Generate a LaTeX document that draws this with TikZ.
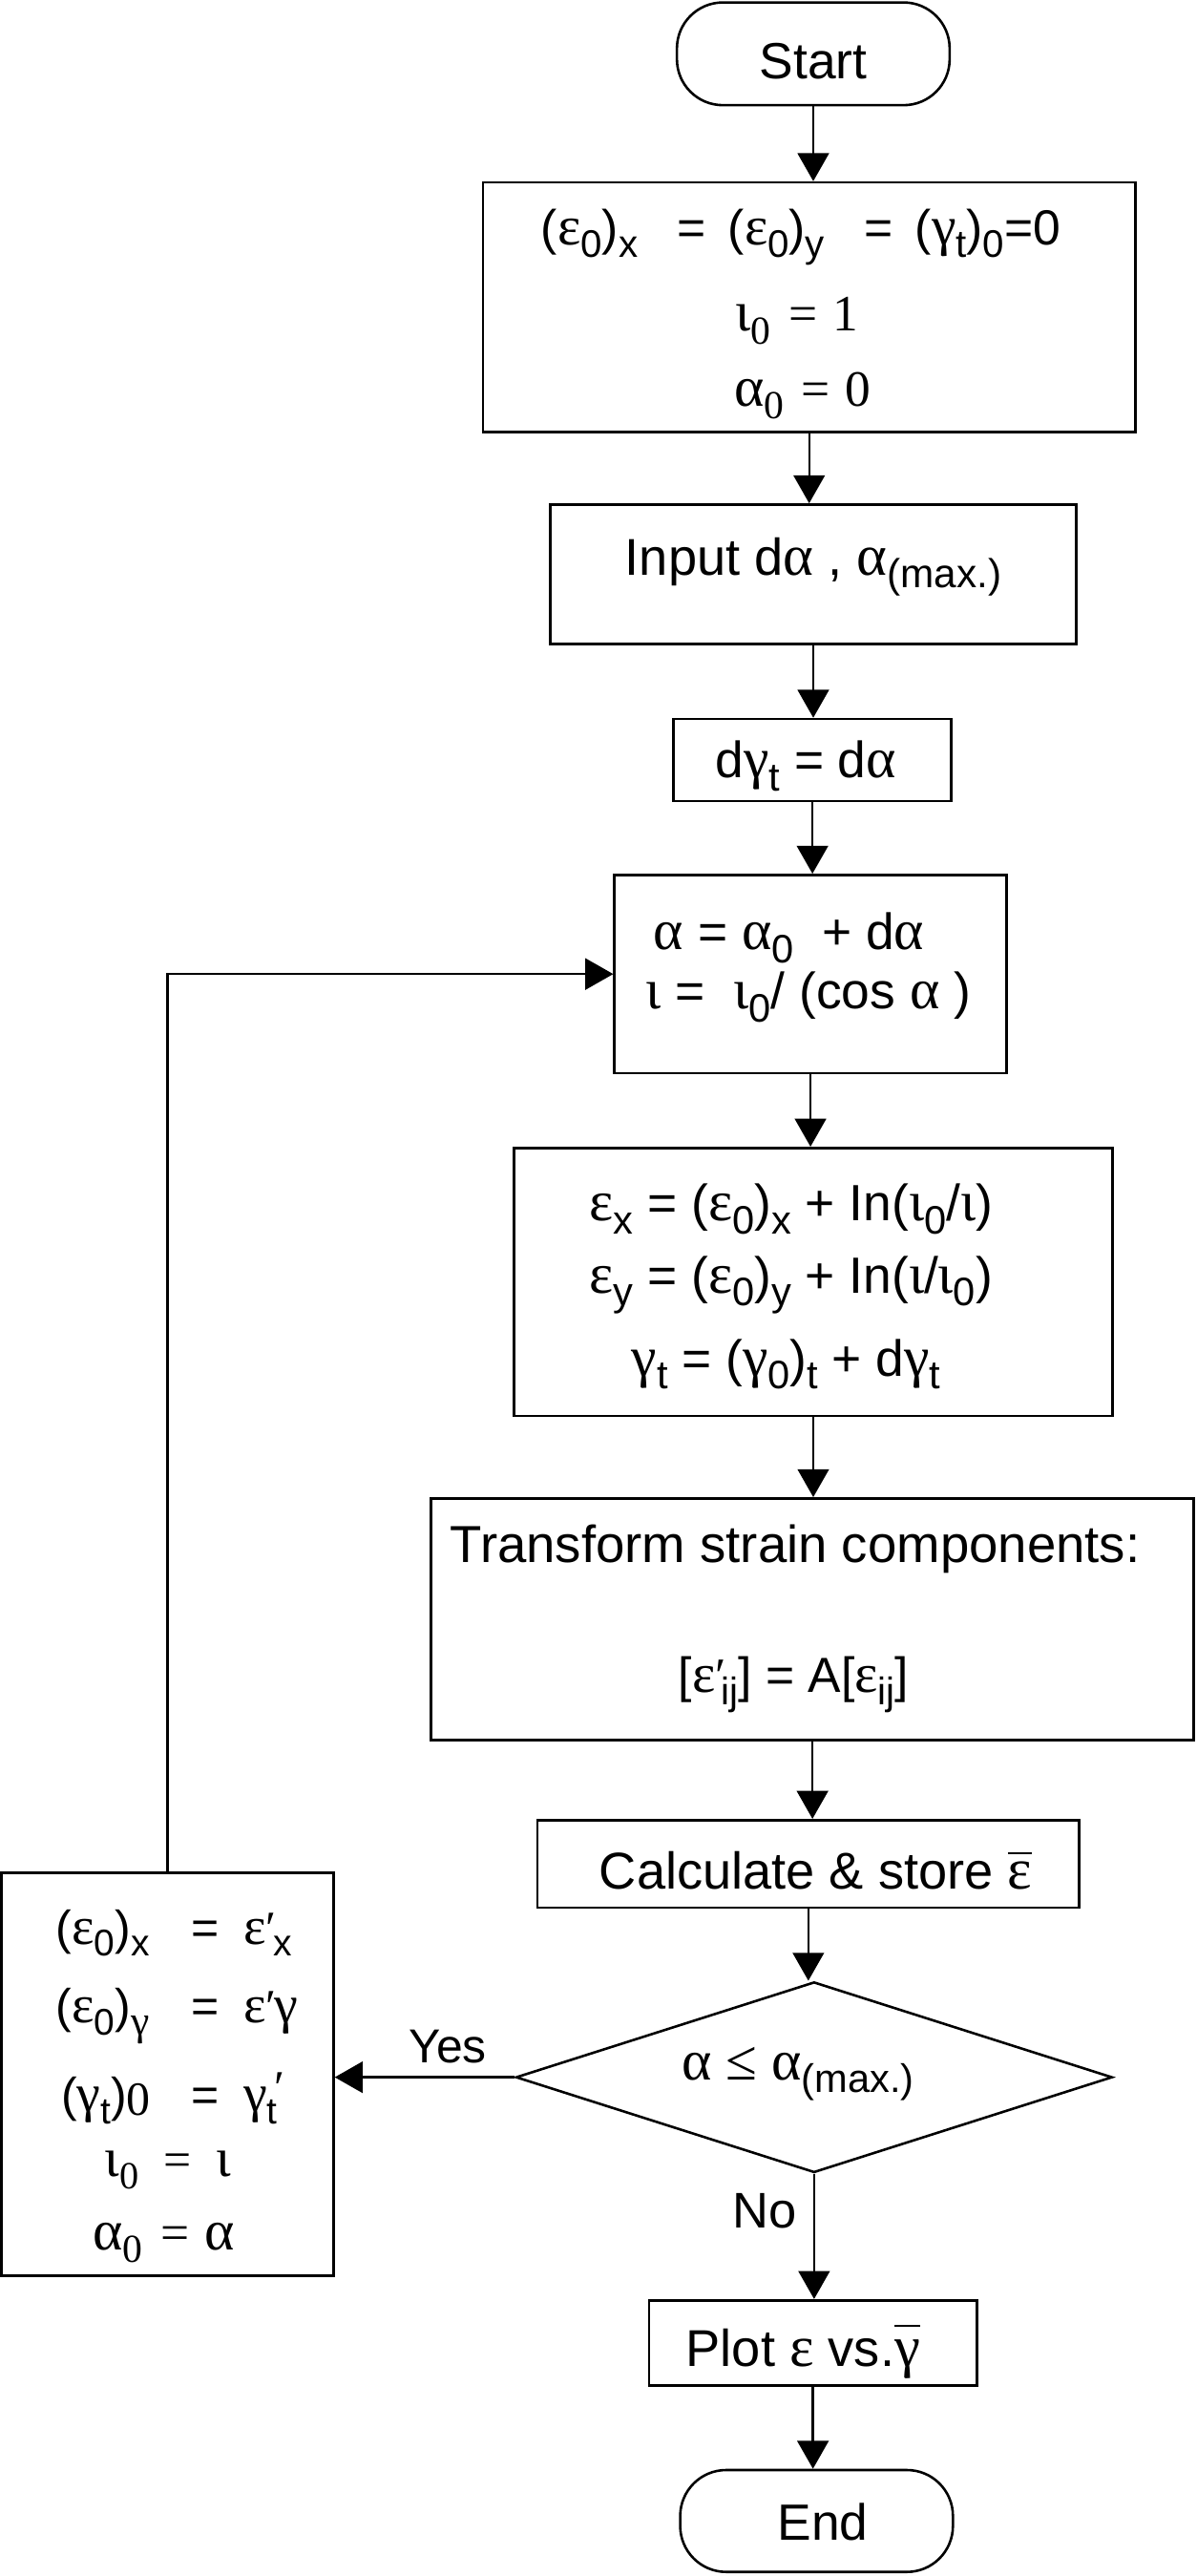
\documentclass[tikz,border=0pt]{standalone}
\usepackage{fontspec}
\setmainfont{Liberation Sans}
\newfontfamily\grk{Liberation Serif}[Scale=1.12]
\newfontfamily\srf{Liberation Serif}
\usetikzlibrary{shapes.geometric,arrows.meta}
\newcommand{\fs}[1]{\fontsize{#1}{#1}\selectfont}
\newcommand{\Ga}{{\grk α}}
\newcommand{\Ge}{{\grk ε}}
\newcommand{\Gg}{{\grk γ}}
\newcommand{\Gi}{{\grk ι}}
\newcommand{\sbs}[1]{\raisebox{-0.25em}{\scalebox{0.78}{#1}}}
\newcommand{\prm}{{\srf ′}}
\newcommand{\ovl}[2]{{\setbox0\hbox{#2}\rlap{\raisebox{#1}{\rule{\wd0}{1.3pt}}}\box0}}
\begin{document}
\begin{tikzpicture}[x=1pt,y=-1pt,
  box/.style={draw, line width=1.5pt, rectangle, inner sep=0pt},
  term/.style={box, rounded corners=28pt},
  arr/.style={-{Triangle[length=17pt,width=19pt]}, line width=1.4pt},
  txt/.style={anchor=base, inner sep=0pt},
  txtw/.style={anchor=base west, inner sep=0pt}]
\useasboundingbox (0,0) rectangle (728,1567.5);

% main column
\node[term, minimum width=166pt, minimum height=62.5pt, text height=30pt, text depth=0pt, font=\fs{31}] (start) at (495,32.75) {Start};

\node[box, minimum width=397pt, minimum height=152pt] (b1) at (492.5,187) {};
\node[txt, font=\fs{30}] (b1a) at (487.5,149) {(\Ge\sbs{0})\sbs{x}\hspace{0.8em}=\hspace{0.45em}(\Ge\sbs{0})\sbs{y}\hspace{0.8em}=\hspace{0.45em}(\Gg\sbs{t})\sbs{0}=0};
\node[txt, font=\srf\fs{31}] (b1b) at (485,201.5) {{\grk ι}\sbs{0}\hspace{0.35em}=\hspace{0.3em}1};
\node[txt, font=\srf\fs{31}] (b1c) at (488.5,247) {{\grk α}\sbs{0}\hspace{0.35em}=\hspace{0.3em}0};

\node[box, minimum width=320pt, minimum height=85pt, text height=12pt, text depth=11pt, font=\fs{31.5}] (b2) at (495,349.5) {Input d\Ga\ , \Ga\sbs{(max.)}};

\node[box, minimum width=169pt, minimum height=50pt, text height=22pt, text depth=0pt, font=\fs{31}] (b3) at (494.5,462.5) {d\Gg\sbs{t} = d\Ga\hspace*{8pt}};

\node[box, minimum width=238.6pt, minimum height=120.6pt] (b4) at (493.3,592.7) {};
\node[txtw, font=\fs{31}] (b4a) at (397.7,578) {\Ga\ = \Ga\sbs{0}\ \ + d\Ga};
\node[txtw, font=\fs{31}] (b4b) at (393,614) {\Gi\ =\ \ \Gi\sbs{0}/ (cos \Ga\ )};

\node[box, minimum width=364pt, minimum height=163pt] (b5) at (495,780) {};
\node[txt, font=\fs{31}] (b5a) at (481.5,743) {\Ge\sbs{x} = (\Ge\sbs{0})\sbs{x} + In(\Gi\sbs{0}/\Gi)};
\node[txt, font=\fs{31}] (b5b) at (481.5,787) {\Ge\sbs{y} = (\Ge\sbs{0})\sbs{y} + In(\Gi/\Gi\sbs{0})};
\node[txt, font=\fs{31}] (b5c) at (478.5,837.5) {\Gg\sbs{t} = (\Gg\sbs{0})\sbs{t} + d\Gg\sbs{t}};

\node[box, minimum width=464.3pt, minimum height=147pt] (b6) at (494.5,985.25) {};
\node[txt, font=\fs{31.7}] (b6a) at (484,950.6) {Transform strain components:};
\node[txt, font=\fs{30}] (b6b) at (483,1029.7) {[\Ge\prm\hspace{-3pt}\sbs{ij}] = A[\Ge\sbs{ij}]};

\node[box, minimum width=329.7pt, minimum height=53.2pt, text height=30.6pt, text depth=0pt, font=\fs{31.5}] (calc) at (492,1134.1) {\hspace*{9pt}Calculate \& store \ovl{21pt}{\Ge}};

\node[diamond, draw, line width=1.5pt, inner sep=0pt, minimum width=363pt, minimum height=116pt] (dia) at (495.5,1264) {};
\node[txt, font=\fs{31}] (diat) at (485.8,1265.5) {\Ga\ {\grk ≤} \Ga\sbs{(max.)}};

\node[box, minimum width=199.6pt, minimum height=52pt, text height=28pt, text depth=0pt, font=\fs{31.5}] (plot) at (494.8,1425.7) {Plot \Ge\ vs.\ovl{24pt}{\Gg}\hspace*{12pt}};

\node[term, minimum width=166pt, minimum height=62pt, text height=23.6pt, text depth=0pt, font=\fs{31}] (end) at (497,1534) {\hspace*{7.6pt}End};

% left box
\node[box, minimum width=202pt, minimum height=245pt] (left) at (102,1262.2) {};
\node[txtw, font=\fs{29}] (la) at (34,1183) {\makebox[84pt][l]{(\Ge\sbs{0})\sbs{x}}\makebox[14pt][c]{=}\hspace{16pt}\Ge\prm\hspace{-2pt}\sbs{x}};
\node[txtw, font=\fs{29}] (lb) at (34,1231) {\makebox[84pt][l]{(\Ge\sbs{0})\sbs{\Gg}}\makebox[14pt][c]{=}\hspace{16pt}\Ge\prm\hspace{-1pt}\Gg};
\node[txtw, font=\fs{29}] (lc) at (37,1285) {\makebox[81pt][l]{(\Gg\sbs{t})\raisebox{-2pt}{\srf 0}}\makebox[14pt][c]{=}\hspace{16pt}\Gg\sbs{t}\hspace{-2pt}\raisebox{5pt}{\prm}};
\node[txt, font=\srf\fs{30}] (ld) at (102.2,1324.6) {{\grk ι}\sbs{0}\hspace{0.5em}=\hspace{0.5em}{\grk ι}};
\node[txt, font=\srf\fs{31}] (le) at (99.7,1369) {{\grk α}\sbs{0}\hspace{0.35em}=\hspace{0.3em}{\grk α}};

% labels
\node[txt, font=\fs{29}] (yes) at (272.5,1255.3) {Yes};
\node[txt, font=\fs{30.5}] (no) at (465.5,1355.6) {No};

% connectors
\draw[arr] (start.south) -- (start.south |- b1.north);
\draw[arr] (b1.south) -- (b1.south |- b2.north);
\draw[arr] (b2.south) -- (b2.south |- b3.north);
\draw[arr] (b3.south) -- (b3.south |- b4.north);
\draw[arr] (b4.south) -- (b4.south |- b5.north);
\draw[arr] (b5.south) -- (b5.south |- b6.north);
\draw[arr] (b6.south) -- (b6.south |- calc.north);
\draw[arr] (calc.south) -- (calc.south |- dia.north);
\draw[arr] (dia.west) -- (dia.west -| left.east);
\draw[arr] (left.north) |- (b4.west);
\draw[arr] (dia.south) -- (dia.south |- plot.north);
\draw[arr] (plot.south) -- (plot.south |- end.north);
\end{tikzpicture}
\end{document}
